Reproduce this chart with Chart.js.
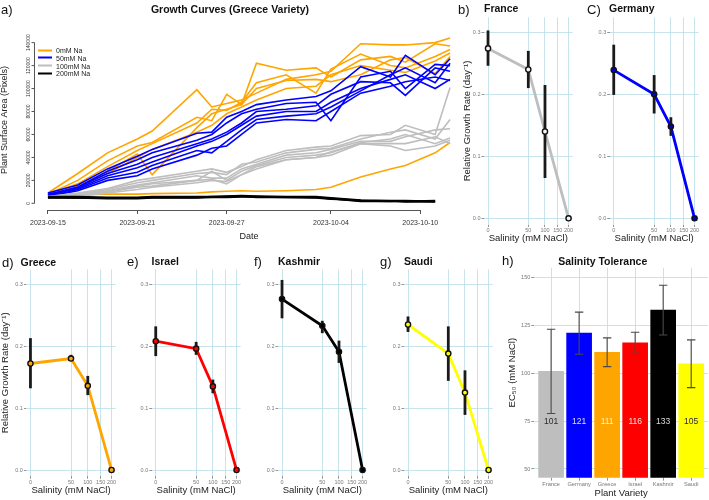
<!DOCTYPE html>
<html>
<head>
<meta charset="utf-8">
<script src="https://cdn.jsdelivr.net/npm/chart.js@4.4.1/dist/chart.umd.min.js"></script>
<style>
  body { margin: 0; background: #fff; }
  #fig { position: relative; width: 709px; height: 500px; overflow: hidden; font-family: 'Liberation Sans', Arial, sans-serif; color: #111; }
  #fig canvas { position: absolute; }
  .t { position: absolute; white-space: nowrap; line-height: 1; transform: translateY(-50%); }
  .tag { font-size: 13px; }
  .ttl { font-size: 10.5px; font-weight: bold; }
  .ctr { transform: translate(-50%, -50%); }
  .leg { position: absolute; left: 38px; font-size: 7px; color: #222; line-height: 1; white-space: nowrap;
         transform: translateY(-50%); display: flex; align-items: center; }
  .leg span { display: inline-block; width: 14px; height: 2px; margin-right: 4px; }
</style>
</head>
<body>
<div id="fig">
  <canvas id="cA"></canvas>
  <canvas id="cB"></canvas>
  <canvas id="cC"></canvas>
  <canvas id="cD"></canvas>
  <canvas id="cE"></canvas>
  <canvas id="cF"></canvas>
  <canvas id="cG"></canvas>
  <canvas id="cH"></canvas>

  <div class="t tag" style="left:1px;top:9px">a)</div>
  <div class="t ttl ctr" style="left:230px;top:9px">Growth Curves (Greece Variety)</div>
  <div class="leg" style="top:50px"><span style="background:#FFA500"></span>0mM Na</div>
  <div class="leg" style="top:57.8px"><span style="background:#0000FF"></span>50mM Na</div>
  <div class="leg" style="top:65.6px"><span style="background:#BEBEBE"></span>100mM Na</div>
  <div class="leg" style="top:73.4px"><span style="background:#000000"></span>200mM Na</div>

  <div class="t tag" style="left:458px;top:9px">b)</div>
  <div class="t ttl" style="left:484px;top:8px">France</div>
  <div class="t tag" style="left:587px;top:9px">C)</div>
  <div class="t ttl" style="left:609px;top:8px">Germany</div>
  <div class="t tag" style="left:2px;top:262px">d)</div>
  <div class="t ttl" style="left:20.5px;top:261.5px">Greece</div>
  <div class="t tag" style="left:127px;top:261px">e)</div>
  <div class="t ttl" style="left:151.5px;top:261px">Israel</div>
  <div class="t tag" style="left:254px;top:261px">f)</div>
  <div class="t ttl" style="left:278px;top:261px">Kashmir</div>
  <div class="t tag" style="left:380px;top:261px">g)</div>
  <div class="t ttl" style="left:404px;top:261px">Saudi</div>
  <div class="t tag" style="left:502px;top:260px">h)</div>
  <div class="t ttl ctr" style="left:602.7px;top:260.7px">Salinity Tolerance</div>
</div>

<script>
// ---- panel a: growth curves (Greece) ----
const days = [0, 2, 4, 6, 7, 10, 11, 12, 13, 14, 16, 18, 19, 21, 23, 24, 26, 27];
const dateTicks = [0, 6, 12, 19, 25];
const dateLabels = ['2023-09-15', '2023-09-21', '2023-09-27', '2023-10-04', '2023-10-10'];
const areaTicks = [0, 20000, 40000, 60000, 80000, 100000, 120000, 140000];

const area0mM = [
  [9000, 26000, 44000, 56000, 63000, 99000, 84000, 87000, 90000, 96000, 108000, 112000, 115000, 139000, 138000, 138000, 140000, 144000],
  [8000, 20000, 37000, 50000, 53000, 75000, 72000, 95000, 86000, 122000, 116000, 118000, 110000, 125000, 128000, 123000, 139000, 137000],
  [8000, 17000, 32000, 46000, 52000, 70000, 82000, 81000, 88000, 105000, 112000, 96000, 117000, 130000, 120000, 118000, 128000, 134000],
  [7000, 15000, 28000, 43000, 25000, 66000, 78000, 82000, 86000, 100000, 107000, 108000, 106000, 112000, 125000, 127000, 113000, 128000],
  [7000, 14000, 26000, 40000, 47000, 62000, 68000, 78000, 84000, 90000, 100000, 102000, 112000, 120000, 116000, 114000, 124000, 131000],
  [7000, 7500, 8000, 8000, 8500, 9000, 10000, 10500, 11000, 10500, 11000, 12000, 14000, 23000, 30000, 33000, 44000, 53000]
];
const area50mM = [
  [9000, 16000, 30000, 41000, 47000, 61000, 62000, 75000, 80000, 86000, 90000, 93000, 98000, 119000, 110000, 129000, 112000, 126000],
  [8000, 14000, 28000, 38000, 44000, 55000, 60000, 70000, 78000, 82000, 87000, 88000, 72000, 110000, 115000, 100000, 121000, 120000],
  [7000, 14000, 26000, 34000, 40000, 52000, 56000, 62000, 70000, 80000, 82000, 85000, 95000, 106000, 105000, 94000, 118000, 115000],
  [7000, 13000, 24000, 31000, 36000, 50000, 54000, 60000, 68000, 76000, 80000, 80000, 88000, 100000, 108000, 112000, 100000, 108000],
  [6000, 12000, 22000, 27000, 33000, 46000, 44000, 54000, 64000, 73000, 76000, 78000, 84000, 98000, 112000, 118000, 105000, 122000],
  [6000, 11000, 20000, 24000, 30000, 42000, 48000, 50000, 60000, 70000, 73000, 72000, 80000, 96000, 102000, 106000, 110000, 107000]
];
const area100mM = [
  [6000, 9000, 13000, 20000, 22000, 28000, 30000, 27000, 32000, 38000, 46000, 49000, 50000, 59000, 60000, 68000, 60000, 101000],
  [6000, 8000, 12000, 18000, 20000, 26000, 27000, 25000, 34000, 36000, 44000, 47000, 48000, 56000, 62000, 64000, 56000, 73000],
  [5000, 8000, 11000, 16000, 18000, 24000, 22000, 22000, 30000, 34000, 42000, 44000, 47000, 54000, 54000, 58000, 64000, 65000],
  [5000, 7000, 10000, 15000, 17000, 20000, 28000, 20000, 28000, 33000, 40000, 42000, 44000, 53000, 56000, 60000, 52000, 57000],
  [5000, 7000, 10000, 14000, 15000, 20000, 21000, 17000, 25000, 32000, 38000, 40000, 45000, 52000, 52000, 52000, 58000, 52000],
  [5000, 6000, 9000, 12000, 14000, 18000, 20000, 19000, 25000, 30000, 38000, 40000, 42000, 52000, 50000, 46000, 50000, 55000]
];
const area200mM = [
  [6000, 6000, 5500, 5500, 6000, 6000, 6000, 6500, 7000, 6500, 6000, 6000, 5000, 3000, 2500, 2500, 2000, null],
  [5000, 5000, 5000, 5000, 5500, 5500, 6000, 6000, 6500, 6000, 5500, 5500, 4500, 2500, 2000, 2000, 2500, null],
  [5500, 5000, 4500, 4500, 5000, 5000, 5500, 5500, 6000, 5500, 5500, 5000, 4000, 2000, 1500, 2000, 1500, null],
  [4500, 4500, 4000, 4000, 4500, 4500, 5000, 5000, 5500, 5500, 5000, 5000, 4000, 1500, 1500, 1500, 1000, null],
  [5000, 4500, 4500, 5000, 5000, 5000, 5500, 6000, 6000, 5000, 5000, 4500, 3500, 2500, 2000, 1000, 1500, null]
];

// ---- panels b-g: relative growth rate vs salinity ----
const salinity = [0, 50, 100, 200];
const salinityTicks = [0, 50, 100, 150, 200];
const rgrTicks = [0, 0.1, 0.2, 0.3];

const franceRGR = [0.274, 0.240, 0.140, 0];
const franceLo = [0.246, 0.210, 0.065, 0];
const franceHi = [0.303, 0.270, 0.215, 0];
const germanyRGR = [0.239, 0.200, 0.148, 0];
const germanyLo = [0.199, 0.169, 0.133, 0];
const germanyHi = [0.280, 0.231, 0.163, 0];
const greeceRGR = [0.172, 0.180, 0.136, 0];
const greeceLo = [0.132, 0.176, 0.121, 0];
const greeceHi = [0.213, 0.186, 0.152, 0];
const israelRGR = [0.208, 0.196, 0.135, 0];
const israelLo = [0.184, 0.186, 0.124, 0];
const israelHi = [0.232, 0.207, 0.146, 0];
const kashmirRGR = [0.276, 0.233, 0.191, 0];
const kashmirLo = [0.245, 0.221, 0.173, 0];
const kashmirHi = [0.307, 0.241, 0.209, 0];
const saudiRGR = [0.235, 0.188, 0.125, 0];
const saudiLo = [0.223, 0.144, 0.089, 0];
const saudiHi = [0.248, 0.232, 0.161, 0];

// ---- panel h: EC50 ----
const varieties = ['France', 'Germany', 'Greece', 'Israel', 'Kashmir', 'Saudi'];
const ec50 = [101, 121, 111, 116, 133, 105];
const ec50Lo = [79, 110, 103.5, 110.5, 120, 92.5];
const ec50Hi = [123, 132, 118.5, 121.5, 146, 117.5];
const ec50Ticks = [50, 75, 100, 125, 150];

Chart.defaults.font.family = "'Liberation Sans', Arial, sans-serif";
Chart.defaults.color = '#333';
Chart.defaults.animation = false;
Chart.defaults.responsive = false;
Chart.defaults.events = [];
Chart.defaults.plugins.legend.display = false;
Chart.defaults.plugins.tooltip.enabled = false;

// square-root x axis like ggplot's scale_x_sqrt
class SqrtScale extends Chart.LinearScale {
  _f(v) { return Math.sign(v) * Math.sqrt(Math.abs(v)); }
  getPixelForValue(value) {
    const a = this._f(this.min), b = this._f(this.max);
    return this.getPixelForDecimal((this._f(value) - a) / (b - a));
  }
  getValueForPixel(pixel) {
    const a = this._f(this.min), b = this._f(this.max);
    const t = a + this.getDecimalForPixel(pixel) * (b - a);
    return Math.sign(t) * t * t;
  }
}
SqrtScale.id = 'sqrt';
Chart.register(SqrtScale);

function place(id, left, top, width, height) {
  const c = document.getElementById(id);
  c.style.left = left + 'px';
  c.style.top = top + 'px';
  c.width = Math.round(width);
  c.height = Math.round(height);
  return c;
}

const fixTicks = vals => scale => { scale.ticks = vals.map(v => ({ value: v })); };

function errorBarPlugin(lo, hi, style) {
  return {
    id: 'errorBars',
    afterDatasetDraw(chart, args) {
      if (args.index !== 0) return;
      const { ctx } = chart;
      const y = chart.scales.y;
      const pts = chart.getDatasetMeta(0).data;
      ctx.save();
      ctx.strokeStyle = style.color;
      ctx.lineWidth = style.width;
      lo.forEach((l, i) => {
        if (hi[i] - l <= 0) return;
        const px = pts[i].x;
        const y1 = y.getPixelForValue(l), y2 = y.getPixelForValue(hi[i]);
        ctx.beginPath();
        ctx.moveTo(px, y1); ctx.lineTo(px, y2);
        if (style.cap) {
          ctx.moveTo(px - style.cap, y1); ctx.lineTo(px + style.cap, y1);
          ctx.moveTo(px - style.cap, y2); ctx.lineTo(px + style.cap, y2);
        }
        ctx.stroke();
      });
      ctx.restore();
    }
  };
}

// base-R style axes for panel a
const baseAxes = {
  id: 'baseAxes',
  afterDraw(chart) {
    const { ctx, chartArea: ca } = chart;
    const x = chart.scales.x, y = chart.scales.y;
    ctx.save();
    ctx.strokeStyle = '#555';
    ctx.lineWidth = 1;
    ctx.beginPath();
    ctx.moveTo(x.getPixelForValue(dateTicks[0]), ca.bottom + 0.5);
    ctx.lineTo(x.getPixelForValue(dateTicks[dateTicks.length - 1]), ca.bottom + 0.5);
    ctx.moveTo(ca.left - 0.5, y.getPixelForValue(areaTicks[0]));
    ctx.lineTo(ca.left - 0.5, y.getPixelForValue(areaTicks[areaTicks.length - 1]));
    areaTicks.forEach(v => {
      const py = y.getPixelForValue(v);
      ctx.moveTo(ca.left - 3.5, py); ctx.lineTo(ca.left - 0.5, py);
    });
    ctx.stroke();
    ctx.fillStyle = '#333';
    ctx.font = "5px 'Liberation Sans', Arial, sans-serif";
    ctx.textAlign = 'center';
    ctx.textBaseline = 'middle';
    areaTicks.forEach(v => {
      ctx.save();
      ctx.translate(ca.left - 6, y.getPixelForValue(v));
      ctx.rotate(-Math.PI / 2);
      ctx.fillText(String(v), 0, 0);
      ctx.restore();
    });
    ctx.restore();
  }
};

// ---- panel a ----
const groups = [
  { sets: area0mM, color: '#FFA500', order: 4, width: 1.6 },
  { sets: area50mM, color: '#0000FF', order: 3, width: 1.6 },
  { sets: area100mM, color: '#BEBEBE', order: 2, width: 1.6 },
  { sets: area200mM, color: '#000000', order: 1, width: 1.3 }
];
const growthSets = [];
groups.forEach(g => g.sets.forEach(s => growthSets.push({
  data: s.map((v, i) => ({ x: days[i], y: v })),
  borderColor: g.color,
  borderWidth: g.width,
  pointRadius: 0,
  tension: 0,
  order: g.order
})));

new Chart(place('cA', 0, 0, 463, 250), {
  type: 'line',
  data: { datasets: growthSets },
  options: {
    layout: { padding: { top: 30, left: 0, right: 0, bottom: 0 } },
    scales: {
      x: {
        type: 'linear', min: -0.87, max: 27.87,
        afterBuildTicks: fixTicks(dateTicks),
        afterFit: s => { s.height = 40; },
        grid: { drawOnChartArea: false, tickLength: 4, tickColor: '#555', lineWidth: 1 },
        border: { display: false },
        ticks: { font: { size: 7 }, color: '#333', padding: 4.5, maxRotation: 0, autoSkip: false,
                 callback: (v, i) => dateLabels[i] },
        title: { display: true, text: 'Date', color: '#222', font: { size: 9, lineHeight: 1.2 },
                 padding: { top: 0, bottom: 7.9 } }
      },
      y: {
        type: 'linear', min: -5800, max: 151000,
        afterBuildTicks: fixTicks(areaTicks),
        afterFit: s => { s.width = 35; },
        grid: { display: false },
        border: { display: false },
        ticks: { display: false },
        title: { display: true, text: 'Plant Surface Area (Pixels)', color: '#222',
                 font: { size: 9, lineHeight: 1 }, padding: { top: 0.5, bottom: 0 } }
      }
    }
  },
  plugins: [baseAxes]
});

// ---- ggplot-like panels ----
const ggGrid = { color: '#b9dde9', lineWidth: 0.8, tickColor: '#666', tickLength: 2.5, tickWidth: 0.7 };

function rgrPanel(id, cx, rowTop, rowBottom, L, T, R, B, color, fill, vals, lo, hi, yTitle) {
  const pts = salinity.map((s, i) => ({ x: s, y: vals[i] }));
  new Chart(place(id, cx, rowTop, R - cx, rowBottom - rowTop), {
    type: 'line',
    data: {
      datasets: [
        { data: pts, borderColor: color, borderWidth: 2.8, pointRadius: 0, order: 2 },
        { data: pts, showLine: false, pointRadius: 2.6, pointBorderWidth: 1.4,
          pointBorderColor: '#111', pointBackgroundColor: fill, order: 1 }
      ]
    },
    options: {
      layout: { padding: { top: T - rowTop, left: 0, right: 0, bottom: 0 } },
      scales: {
        x: {
          type: 'sqrt', min: -0.5, max: 220.5,
          afterBuildTicks: fixTicks(salinityTicks),
          afterFit: s => { s.height = rowBottom - B; },
          grid: ggGrid,
          border: { display: false },
          ticks: { font: { size: 5.5 }, color: '#777', padding: 0, maxRotation: 0, autoSkip: false,
                   callback: v => String(v) },
          title: { display: true, text: 'Salinity (mM NaCl)', color: '#222',
                   font: { size: 9.5, lineHeight: 1 }, padding: { top: 0, bottom: rowBottom - B - 18.75 } }
        },
        y: {
          type: 'linear', min: -0.01, max: 0.324,
          afterBuildTicks: fixTicks(rgrTicks),
          afterFit: s => { s.width = L - cx; },
          grid: ggGrid,
          border: { display: false },
          ticks: { font: { size: 5.5 }, color: '#777', padding: 1, callback: v => v.toFixed(1) },
          title: { display: yTitle, text: 'Relative Growth Rate (day\u207B\u00B9)', color: '#222',
                   font: { size: 9.5, lineHeight: 1 }, padding: { top: 0.25, bottom: 0 } }
        }
      }
    },
    plugins: [errorBarPlugin(lo, hi, { color: '#1a1a1a', width: 2.8, cap: 0 })]
  });
}

rgrPanel('cB', 461.7, 0, 250, 483.7, 17.4, 578, 224.5, '#BEBEBE', '#f4f4f4', franceRGR, franceLo, franceHi, true);
rgrPanel('cC', 590, 0, 250, 609.7, 17.4, 704, 224.5, '#0000FF', '#0000CD', germanyRGR, germanyLo, germanyHi, false);
rgrPanel('cD', 0, 250, 500, 26.4, 269.4, 120.7, 476.2, '#FFA500', '#FFA500', greeceRGR, greeceLo, greeceHi, true);
rgrPanel('cE', 132, 250, 500, 151.7, 269.4, 246, 476.2, '#FF0000', '#FF0000', israelRGR, israelLo, israelHi, false);
rgrPanel('cF', 258, 250, 500, 278, 269.4, 372.3, 476.2, '#000000', '#000000', kashmirRGR, kashmirLo, kashmirHi, false);
rgrPanel('cG', 384, 250, 500, 404, 269.4, 498.3, 476.2, '#FFFF00', '#FFFF00', saudiRGR, saudiLo, saudiHi, false);

// ---- panel h ----
const barColors = ['#BEBEBE', '#0000FF', '#FFA500', '#FF0000', '#000000', '#FFFF00'];
const labelColors = ['#2a2a2a', 'rgba(255,255,255,0.85)', 'rgba(255,255,255,0.85)',
                     'rgba(255,255,255,0.85)', 'rgba(255,255,255,0.85)', '#2a2a2a'];
const barLabels = {
  id: 'barLabels',
  afterDatasetsDraw(chart) {
    const { ctx } = chart;
    const y = chart.scales.y;
    const bars = chart.getDatasetMeta(0).data;
    ctx.save();
    ctx.font = "8.5px 'Liberation Sans', Arial, sans-serif";
    ctx.textAlign = 'center';
    ctx.textBaseline = 'middle';
    bars.forEach((b, i) => {
      ctx.fillStyle = labelColors[i];
      ctx.fillText(String(ec50[i]), b.x, y.getPixelForValue(75));
    });
    ctx.restore();
  }
};

const hL = 534, hR = 707.5, hT = 267.7, hB = 477.7, hcx = 506.7;
new Chart(place('cH', hcx, 250, hR - hcx, 250), {
  type: 'bar',
  data: {
    datasets: [{
      data: ec50.map((v, i) => ({ x: i, y: v })),
      backgroundColor: barColors,
      barThickness: 25,
      borderWidth: 0
    }]
  },
  options: {
    layout: { padding: { top: hT - 250, left: 0, right: 0, bottom: 0 } },
    scales: {
      x: {
        type: 'linear', min: -0.6, max: 5.6, offset: false,
        afterBuildTicks: fixTicks([0, 1, 2, 3, 4, 5]),
        afterFit: s => { s.height = 500 - hB; },
        grid: { ...ggGrid, tickLength: 3, offset: false },
        border: { display: false },
        ticks: { font: { size: 5.7 }, color: '#777', padding: 0, maxRotation: 0, autoSkip: false,
                 callback: (v, i) => varieties[i] },
        title: { display: true, text: 'Plant Variety', color: '#222',
                 font: { size: 9.5, lineHeight: 1 }, padding: { top: 0, bottom: 1.55 } }
      },
      y: {
        type: 'linear', min: 45.45, max: 155.2,
        afterBuildTicks: fixTicks(ec50Ticks),
        afterFit: s => { s.width = hL - hcx; },
        grid: { ...ggGrid, tickLength: 3 },
        border: { display: false },
        ticks: { font: { size: 5.5 }, color: '#777', padding: 1, callback: v => String(v) },
        title: { display: true, text: 'EC\u2085\u2080 (mM NaCl)', color: '#222',
                 font: { size: 9.5, lineHeight: 1 }, padding: { top: 0.25, bottom: 0 } }
      }
    }
  },
  plugins: [errorBarPlugin(ec50Lo, ec50Hi, { color: '#4a4a4a', width: 1.1, cap: 4.2 }), barLabels]
});
</script>
</body>
</html>
